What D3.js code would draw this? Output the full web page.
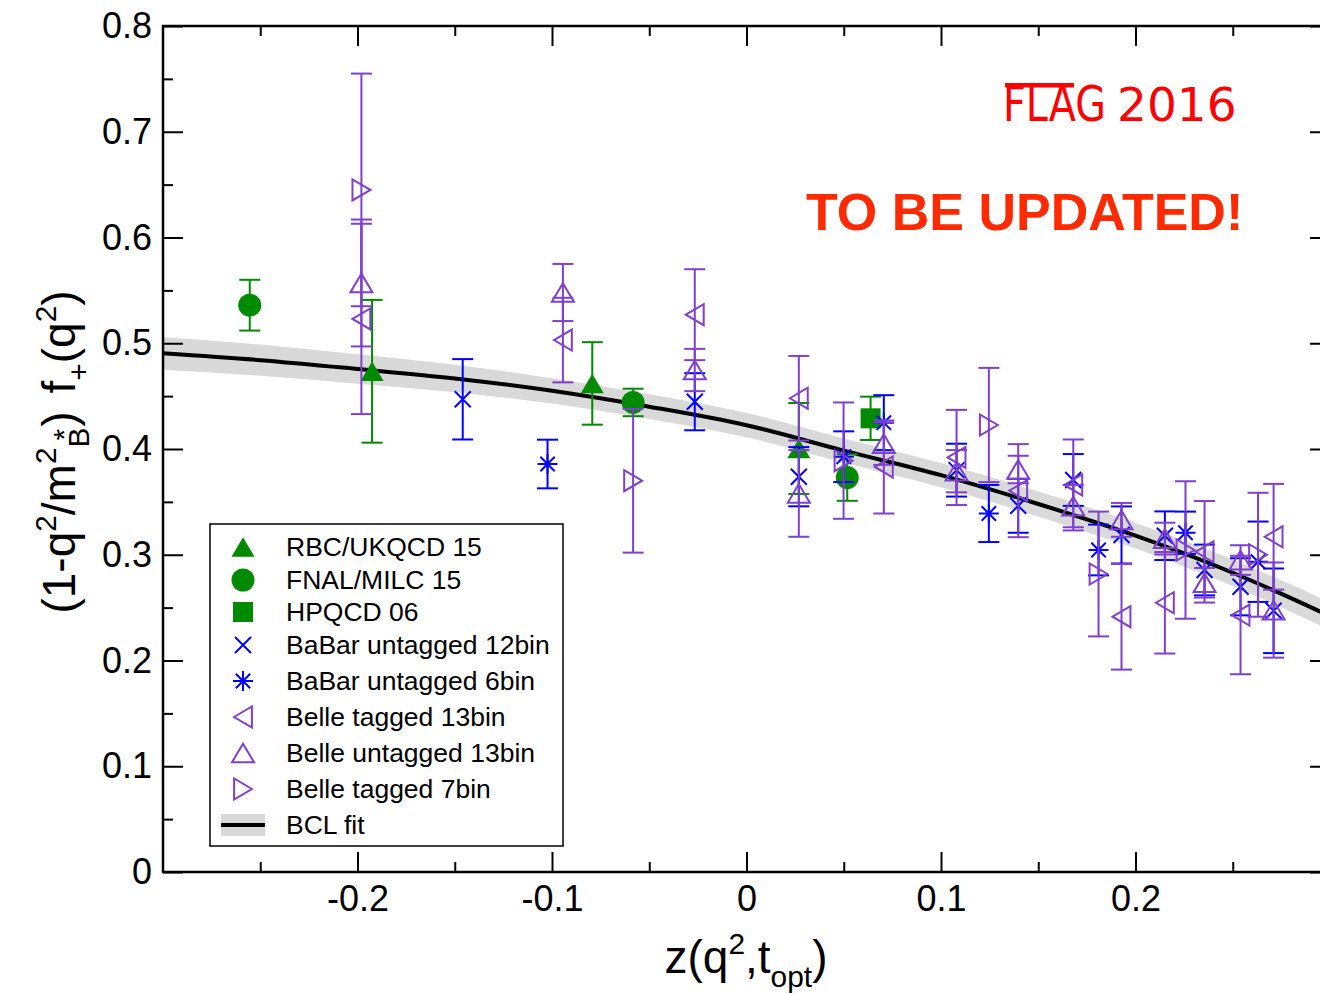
<!DOCTYPE html>
<html>
<head>
<meta charset="utf-8">
<script src="https://cdn.jsdelivr.net/npm/d3@7"></script>
<style>
  body { margin: 0; background: #fff; }
  text { font-family: "Liberation Sans", Arial, Helvetica, sans-serif; }
</style>
</head>
<body>
<div id="chart"></div>
<script>
// frame of the plot (right edge runs just past the picture)
const margin = {top: 26, left: 163};
const width = 1167;
const height = 846;

// axis ticks
const xMajor = [-0.2, -0.1, 0, 0.1, 0.2];
const xMajorLabels = ["-0.2", "-0.1", "0", "0.1", "0.2"];
const xMinor = [-0.25, -0.15, -0.05, 0.05, 0.15, 0.25];
const yMajor = [0, 0.1, 0.2, 0.3, 0.4, 0.5, 0.6, 0.7, 0.8];
const yMajorLabels = ["0", "0.1", "0.2", "0.3", "0.4", "0.5", "0.6", "0.7", "0.8"];
const yMinor = [0.05, 0.15, 0.25, 0.35, 0.45, 0.55, 0.65, 0.75];

// lattice data
const rbcZ = [-0.1925, -0.0793, 0.0269];
const rbcV = [0.4735, 0.462, 0.4005];
const rbcE = [0.0675, 0.039, 0.043];

const fnalZ = [-0.2554, -0.0583, 0.0518];
const fnalV = [0.536, 0.444, 0.373];
const fnalE = [0.024, 0.013, 0.022];

const hpqcdZ = [0.0638];
const hpqcdV = [0.429];
const hpqcdE = [0.0205];

// experiment data
const babar12Z = [-0.1459, -0.0266, 0.0269, 0.108, 0.1397, 0.168, 0.1928, 0.2151, 0.2355, 0.254, 0.271];
const babar12V = [0.447, 0.4447, 0.3738, 0.380, 0.3463, 0.3707, 0.3187, 0.318, 0.2856, 0.2697, 0.247];
const babar12E = [0.038, 0.027, 0.028, 0.025, 0.0255, 0.0245, 0.027, 0.023, 0.024, 0.027, 0.04];

const babar6Z = [-0.1023, 0.050, 0.0706, 0.1246, 0.181, 0.2257, 0.263];
const babar6V = [0.3858, 0.3927, 0.4249, 0.339, 0.3045, 0.3208, 0.2934];
const babar6E = [0.023, 0.024, 0.026, 0.027, 0.024, 0.02, 0.038];

const belleT13Z = [-0.198, -0.0944, -0.0266, 0.0269, 0.0706, 0.108, 0.1397, 0.168, 0.1928, 0.2151, 0.2355, 0.254, 0.271];
const belleT13V = [0.523, 0.503, 0.527, 0.448, 0.383, 0.392, 0.3606, 0.366, 0.2414, 0.2546, 0.3028, 0.243, 0.317];
const belleT13E = [0.09, 0.04, 0.043, 0.04, 0.044, 0.045, 0.044, 0.043, 0.05, 0.048, 0.048, 0.056, 0.05];

const belleU13Z = [-0.198, -0.0944, -0.0266, 0.0269, 0.0706, 0.108, 0.1397, 0.168, 0.1928, 0.2151, 0.2355, 0.254, 0.271];
const belleU13V = [0.557, 0.548, 0.4747, 0.358, 0.405, 0.379, 0.3806, 0.346, 0.333, 0.3153, 0.2735, 0.295, 0.2477];
const belleU13E = [0.06, 0.027, 0.02, 0.041, 0.02, 0.02, 0.013, 0.02, 0.016, 0.015, 0.014, 0.014, 0.045];

const belleT7Z = [-0.198, -0.0583, 0.0499, 0.1246, 0.181, 0.2257, 0.263];
const belleT7V = [0.645, 0.37, 0.389, 0.4227, 0.2818, 0.3045, 0.300];
const belleT7E = [0.11, 0.068, 0.055, 0.054, 0.059, 0.065, 0.0586];

// BCL fit, with its error band
const fitZ = [-0.3, -0.25, -0.2, -0.15, -0.1, -0.05, 0, 0.05, 0.1, 0.15, 0.2, 0.25, 0.3];
const fitV = [0.4905, 0.484, 0.4757, 0.4667, 0.455, 0.440, 0.4225, 0.3985, 0.3753, 0.348, 0.318, 0.283, 0.242];
const fitErr = [0.0155, 0.0148, 0.014, 0.013, 0.012, 0.0117, 0.0115, 0.0115, 0.0115, 0.0118, 0.012, 0.0125, 0.013];

const green = "#008a00";
const blue = "#0000ff";
const purple = "#7f3fcf";

// marker shapes, r = half size
const shapes = {
  triUp: r => `M0,${-0.85*r}L${r},${0.85*r}L${-r},${0.85*r}Z`,
  triLeft: r => `M${-0.85*r},0L${0.85*r},${-r}L${0.85*r},${r}Z`,
  triRight: r => `M${0.85*r},0L${-0.85*r},${-r}L${-0.85*r},${r}Z`,
  circle: r => `M${r},0A${r},${r} 0 1,1 ${-r},0A${r},${r} 0 1,1 ${r},0Z`,
  square: r => `M${-r},${-r}H${r}V${r}H${-r}Z`,
  times: r => `M${-r},${-r}L${r},${r}M${-r},${r}L${r},${-r}`,
  star: r => { const d = r * 0.72; return `M${-r},0H${r}M0,${-r}V${r}M${-d},${-d}L${d},${d}M${-d},${d}L${d},${-d}`; }
};

const series = [
  {name: "RBC/UKQCD 15", z: rbcZ, v: rbcV, e: rbcE, color: green, shape: "triUp", r: 11.5, fill: true},
  {name: "FNAL/MILC 15", z: fnalZ, v: fnalV, e: fnalE, color: green, shape: "circle", r: 11.5, fill: true},
  {name: "HPQCD 06", z: hpqcdZ, v: hpqcdV, e: hpqcdE, color: green, shape: "square", r: 10, fill: true},
  {name: "BaBar untagged 12bin", z: babar12Z, v: babar12V, e: babar12E, color: blue, shape: "times", r: 8, fill: false},
  {name: "BaBar untagged 6bin", z: babar6Z, v: babar6V, e: babar6E, color: blue, shape: "star", r: 10, fill: false},
  {name: "Belle tagged 13bin", z: belleT13Z, v: belleT13V, e: belleT13E, color: purple, shape: "triLeft", r: 10.5, fill: false},
  {name: "Belle untagged 13bin", z: belleU13Z, v: belleU13V, e: belleU13E, color: purple, shape: "triUp", r: 11, fill: false},
  {name: "Belle tagged 7bin", z: belleT7Z, v: belleT7V, e: belleT7E, color: purple, shape: "triRight", r: 10.5, fill: false}
];

const xScale = d3.scaleLinear().domain([-0.3, 0.3]).range([0, width]);
const yScale = d3.scaleLinear().domain([0, 0.8]).range([height, 0]);

const svg = d3.select("#chart").append("svg")
  .attr("width", 1320)
  .attr("height", 994);

const g = svg.append("g").attr("transform", `translate(${margin.left},${margin.top})`);

// fit band + line
const fitData = fitZ.map((z, i) => ({z: z, v: fitV[i], e: fitErr[i]}));
g.append("path")
  .datum(fitData)
  .attr("fill", "#d9d9d9")
  .attr("d", d3.area().curve(d3.curveMonotoneX)
    .x(d => xScale(d.z)).y0(d => yScale(d.v - d.e)).y1(d => yScale(d.v + d.e)));
g.append("path")
  .datum(fitData)
  .attr("fill", "none")
  .attr("stroke", "#000")
  .attr("stroke-width", 4)
  .attr("d", d3.line().curve(d3.curveMonotoneX).x(d => xScale(d.z)).y(d => yScale(d.v)));

// data with error bars
series.forEach(s => {
  const pts = s.z.map((z, i) => ({z: z, v: s.v[i], e: s.e[i]}));
  const grp = g.append("g");
  const bars = grp.selectAll(".bar").data(pts).enter().append("g")
    .attr("stroke", s.color).attr("stroke-width", 2).attr("fill", "none");
  bars.append("line")
    .attr("x1", d => xScale(d.z)).attr("x2", d => xScale(d.z))
    .attr("y1", d => yScale(d.v - d.e)).attr("y2", d => yScale(d.v + d.e));
  bars.append("line")
    .attr("x1", d => xScale(d.z) - 10.5).attr("x2", d => xScale(d.z) + 10.5)
    .attr("y1", d => yScale(d.v + d.e)).attr("y2", d => yScale(d.v + d.e));
  bars.append("line")
    .attr("x1", d => xScale(d.z) - 10.5).attr("x2", d => xScale(d.z) + 10.5)
    .attr("y1", d => yScale(d.v - d.e)).attr("y2", d => yScale(d.v - d.e));
  grp.selectAll(".mk").data(pts).enter().append("path")
    .attr("transform", d => `translate(${xScale(d.z)},${yScale(d.v)})`)
    .attr("d", shapes[s.shape](s.r))
    .attr("fill", s.fill ? s.color : "none")
    .attr("stroke", s.fill ? "none" : s.color)
    .attr("stroke-width", 2);
});

// frame
g.append("rect")
  .attr("width", width).attr("height", height)
  .attr("fill", "none").attr("stroke", "#000").attr("stroke-width", 2.5);

// axes, ticks inward on all sides
function tidy(a) {
  a.select(".domain").remove();
  a.selectAll("line").attr("stroke-width", 2);
  a.selectAll("text").style("font-size", "36px").attr("fill", "#000");
}
g.append("g").attr("transform", `translate(0,${height})`)
  .call(d3.axisBottom(xScale).tickValues(xMajor).tickSize(-20).tickPadding(13)
    .tickFormat((d, i) => xMajorLabels[i]))
  .call(tidy);
g.append("g").attr("transform", `translate(0,${height})`)
  .call(d3.axisBottom(xScale).tickValues(xMinor).tickSize(-10).tickFormat(""))
  .call(tidy);
g.append("g")
  .call(d3.axisTop(xScale).tickValues(xMajor).tickSize(-20).tickFormat(""))
  .call(tidy);
g.append("g")
  .call(d3.axisTop(xScale).tickValues(xMinor).tickSize(-10).tickFormat(""))
  .call(tidy);
g.append("g")
  .call(d3.axisLeft(yScale).tickValues(yMajor).tickSize(-20).tickPadding(11)
    .tickFormat((d, i) => yMajorLabels[i]))
  .call(tidy);
g.append("g")
  .call(d3.axisLeft(yScale).tickValues(yMinor).tickSize(-10).tickFormat(""))
  .call(tidy);
g.append("g").attr("transform", `translate(${width},0)`)
  .call(d3.axisRight(yScale).tickValues(yMajor).tickSize(-20).tickFormat(""))
  .call(tidy);
g.append("g").attr("transform", `translate(${width},0)`)
  .call(d3.axisRight(yScale).tickValues(yMinor).tickSize(-10).tickFormat(""))
  .call(tidy);

// text with sub/superscripts: [text, baseline shift (em), small?, dx]
function rich(txt, parts, fs) {
  let cur = 0;
  parts.forEach(p => {
    const shift = p[1] * fs;
    txt.append("tspan")
      .attr("dy", shift - cur)
      .attr("dx", p[3] || 0)
      .style("font-size", (p[2] ? fs * 0.65 : fs) + "px")
      .text(p[0]);
    cur = shift;
  });
}

// x-axis title
const xt = svg.append("text")
  .attr("x", 746).attr("y", 973)
  .attr("text-anchor", "middle")
  .style("font-size", "46px");
rich(xt, [["z(q", 0, false], ["2", -0.42, true], [",", 0, false], ["t", 0, false],
  ["opt", 0.3, true], [")", 0, false]], 46);

// y-axis title
const yt = svg.append("text")
  .attr("transform", "translate(75,452) rotate(-90)")
  .attr("text-anchor", "middle")
  .style("font-size", "46px");
rich(yt, [["(1-q", 0, false], ["2", -0.42, true], ["/m", 0, false], ["2", -0.42, true],
  ["B", 0.3, true], ["*", -0.02, true, -13], [")", 0, false, 2],
  ["f", 0, false, 18], ["+", 0.3, true], ["(q", 0, false], ["2", -0.42, true], [")", 0, false]], 46);

// legend
const legend = svg.append("g");
legend.append("rect")
  .attr("x", 210).attr("y", 524).attr("width", 353).attr("height", 322)
  .attr("fill", "#fff").attr("stroke", "#000").attr("stroke-width", 1.5);
const rowY = [547, 580, 612, 645, 681, 717, 753, 789, 825];
series.forEach((s, i) => {
  legend.append("path")
    .attr("transform", `translate(243,${rowY[i]})`)
    .attr("d", shapes[s.shape](s.r))
    .attr("fill", s.fill ? s.color : "none")
    .attr("stroke", s.fill ? "none" : s.color)
    .attr("stroke-width", 2);
  legend.append("text")
    .attr("x", 286).attr("y", rowY[i] + 9)
    .style("font-size", "26.5px")
    .text(s.name);
});
legend.append("rect")
  .attr("x", 221).attr("y", rowY[8] - 11).attr("width", 44).attr("height", 22)
  .attr("fill", "#d9d9d9");
legend.append("line")
  .attr("x1", 221).attr("x2", 265).attr("y1", rowY[8]).attr("y2", rowY[8])
  .attr("stroke", "#000").attr("stroke-width", 4);
legend.append("text")
  .attr("x", 286).attr("y", rowY[8] + 9)
  .style("font-size", "26.5px")
  .text("BCL fit");

// FLAG logo and note
svg.append("text")
  .attr("transform", "translate(1003,121) scale(0.81,1)")
  .style("font-family", "'DejaVu Sans', sans-serif")
  .style("font-size", "49px")
  .attr("fill", "#ff0000")
  .text("FLAG");
svg.append("rect")
  .attr("x", 1005).attr("y", 83).attr("width", 69).attr("height", 4.5)
  .attr("fill", "#ff0000");
svg.append("text")
  .attr("x", 1117).attr("y", 121)
  .style("font-family", "'DejaVu Sans', sans-serif")
  .style("font-size", "47px")
  .attr("fill", "#ff0000")
  .text("2016");
svg.append("text")
  .attr("x", 806).attr("y", 230)
  .style("font-size", "52px")
  .style("font-weight", "700")
  .attr("fill", "#ff2a00")
  .text("TO BE UPDATED!");
</script>
</body>
</html>
